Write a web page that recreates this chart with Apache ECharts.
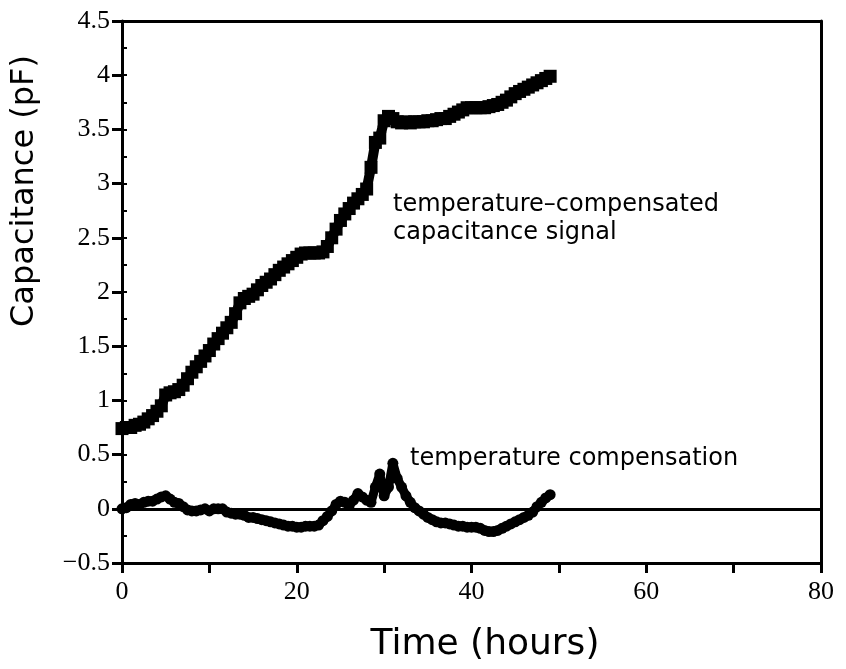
<!DOCTYPE html>
<html>
<head>
<meta charset="utf-8">
<script src="https://cdn.jsdelivr.net/npm/echarts@6/dist/echarts.min.js"></script>
<style>html,body{margin:0;padding:0;background:#fff}#c{width:846px;height:669px}</style>
</head>
<body>
<div id="c"></div>
<script>
// Time (hours) sample points, step 0.5 h
const timeHours = [0,0.5,1,1.5,2,2.5,3,3.5,4,4.5,5,5.5,6,6.5,7,7.5,8,8.5,9,9.5,10,10.5,11,11.5,12,12.5,13,13.5,14,14.5,15,15.5,16,16.5,17,17.5,18,18.5,19,19.5,20,20.5,21,21.5,22,22.5,23,23.5,24,24.5,25,25.5,26,26.5,27,27.5,28,28.5,29,29.5,30,30.5,31,31.5,32,32.5,33,33.5,34,34.5,35,35.5,36,36.5,37,37.5,38,38.5,39,39.5,40,40.5,41,41.5,42,42.5,43,43.5,44,44.5,45,45.5,46,46.5,47,47.5,48,48.5,49];
// temperature-compensated capacitance signal (pF)
const compensatedSignal = [0.74,0.75,0.75,0.77,0.78,0.8,0.83,0.86,0.9,0.95,1.05,1.07,1.08,1.1,1.14,1.2,1.26,1.31,1.36,1.41,1.46,1.52,1.57,1.62,1.67,1.72,1.8,1.9,1.94,1.96,1.98,2.02,2.06,2.09,2.12,2.16,2.2,2.23,2.26,2.29,2.32,2.35,2.36,2.36,2.36,2.36,2.37,2.42,2.5,2.58,2.66,2.72,2.77,2.82,2.86,2.9,2.95,3.15,3.38,3.42,3.58,3.62,3.6,3.57,3.56,3.57,3.56,3.57,3.57,3.57,3.58,3.58,3.59,3.6,3.6,3.62,3.64,3.66,3.68,3.7,3.7,3.7,3.7,3.7,3.71,3.72,3.73,3.75,3.77,3.8,3.83,3.85,3.87,3.89,3.91,3.93,3.95,3.97,3.99];
// temperature compensation (pF)
const temperatureCompensation = [0,0.01,0.04,0.05,0.04,0.06,0.07,0.07,0.09,0.11,0.12,0.09,0.06,0.05,0.02,-0.01,-0.02,-0.02,-0.01,0,-0.02,0,0,0,-0.03,-0.04,-0.05,-0.05,-0.06,-0.08,-0.08,-0.09,-0.1,-0.11,-0.12,-0.13,-0.14,-0.15,-0.16,-0.16,-0.17,-0.17,-0.16,-0.16,-0.16,-0.15,-0.11,-0.07,-0.02,0.04,0.07,0.06,0.03,0.08,0.14,0.11,0.08,0.06,0.2,0.32,0.12,0.2,0.42,0.28,0.2,0.12,0.06,0.01,-0.02,-0.05,-0.08,-0.1,-0.12,-0.13,-0.13,-0.14,-0.15,-0.16,-0.16,-0.17,-0.17,-0.17,-0.18,-0.2,-0.21,-0.21,-0.2,-0.18,-0.16,-0.14,-0.12,-0.1,-0.08,-0.06,-0.03,0.02,0.06,0.1,0.13];
const xTickLabels = [0,20,40,60,80];
const yTickLabels = [-0.5,0,0.5,1,1.5,2,2.5,3,3.5,4,4.5];

const chart = echarts.init(document.getElementById('c'));
const serifFont = 'Liberation Serif';
const sansFont = 'DejaVu Sans';
const fmtY = v => { const r = Math.round(v*100)/100; if (!yTickLabels.includes(r)) return ''; return r < 0 ? '\u2212' + String(-r) : String(r); };
const fmtX = v => xTickLabels.includes(Math.round(v)) ? String(Math.round(v)) : '';

chart.setOption({
  animation: false,
  backgroundColor: '#fff',
  grid: {left: 122, right: 25, top: 21, bottom: 106},
  xAxis: [
    {type: 'value', min: 0, max: 80, interval: 10, position: 'bottom',
     axisLine: {show: true, onZero: false, lineStyle: {color: '#000', width: 3}},
     axisTick: {show: true, length: 10, lineStyle: {color: '#000', width: 3}},
     axisLabel: {formatter: fmtX, color: '#000', fontFamily: serifFont, fontSize: 26, margin: 16},
     splitLine: {show: false}},
    {type: 'value', min: 0, max: 80, position: 'top',
     axisLine: {show: true, onZero: false, lineStyle: {color: '#000', width: 3}},
     axisTick: {show: false}, axisLabel: {show: false}, splitLine: {show: false}}
  ],
  yAxis: [
    {type: 'value', min: -0.5, max: 4.5, interval: 0.5, position: 'left',
     axisLine: {show: true, onZero: false, lineStyle: {color: '#000', width: 3}},
     axisTick: {show: true, length: 10, lineStyle: {color: '#000', width: 3}},
     axisLabel: {formatter: fmtY, color: '#000', fontFamily: serifFont, fontSize: 26, margin: 12},
     splitLine: {show: false}},
    {type: 'value', min: -0.5, max: 4.5, position: 'right',
     axisLine: {show: true, onZero: false, lineStyle: {color: '#000', width: 3}},
     axisTick: {show: false}, axisLabel: {show: false}, splitLine: {show: false}},
    {type: 'value', min: -0.5, max: 4.5, interval: 0.25, position: 'left',
     axisLine: {show: false},
     axisTick: {show: true, inside: true, length: 5, lineStyle: {color: '#000', width: 2}},
     axisLabel: {show: false}, splitLine: {show: false}}
  ],
  series: [
    {name: 'temperature-compensated capacitance signal', type: 'line', xAxisIndex: 0, yAxisIndex: 0,
     data: timeHours.map((t, i) => [t, compensatedSignal[i]]),
     symbol: 'rect', symbolSize: 13, showAllSymbol: true,
     itemStyle: {color: '#000'}, lineStyle: {color: '#000', width: 10}},
    {name: 'temperature compensation', type: 'line', xAxisIndex: 0, yAxisIndex: 0,
     data: timeHours.map((t, i) => [t, temperatureCompensation[i]]),
     symbol: 'circle', symbolSize: 11, showAllSymbol: true,
     itemStyle: {color: '#000'}, lineStyle: {color: '#000', width: 9},
     markLine: {silent: true, symbol: 'none', label: {show: false},
       lineStyle: {color: '#000', width: 3, type: 'solid'},
       data: [{yAxis: 0}]}}
  ],
  graphic: [
    {type: 'text', left: 393, top: 191, style: {text: 'temperature\u2013compensated\ncapacitance signal', fill: '#000', font: '24px "' + sansFont + '"', lineHeight: 28}},
    {type: 'text', left: 410, top: 447, style: {text: 'temperature compensation', fill: '#000', font: '24px "' + sansFont + '"'}},
    {type: 'text', x: 485, y: 645, style: {text: 'Time (hours)', fill: '#000', font: '36px "' + sansFont + '"', align: 'center', verticalAlign: 'middle'}},
    {type: 'text', x: 25, y: 191, rotation: Math.PI/2, style: {text: 'Capacitance (pF)', fill: '#000', font: '32px "' + sansFont + '"', align: 'center', verticalAlign: 'middle'}}
  ]
});
</script>
</body>
</html>
